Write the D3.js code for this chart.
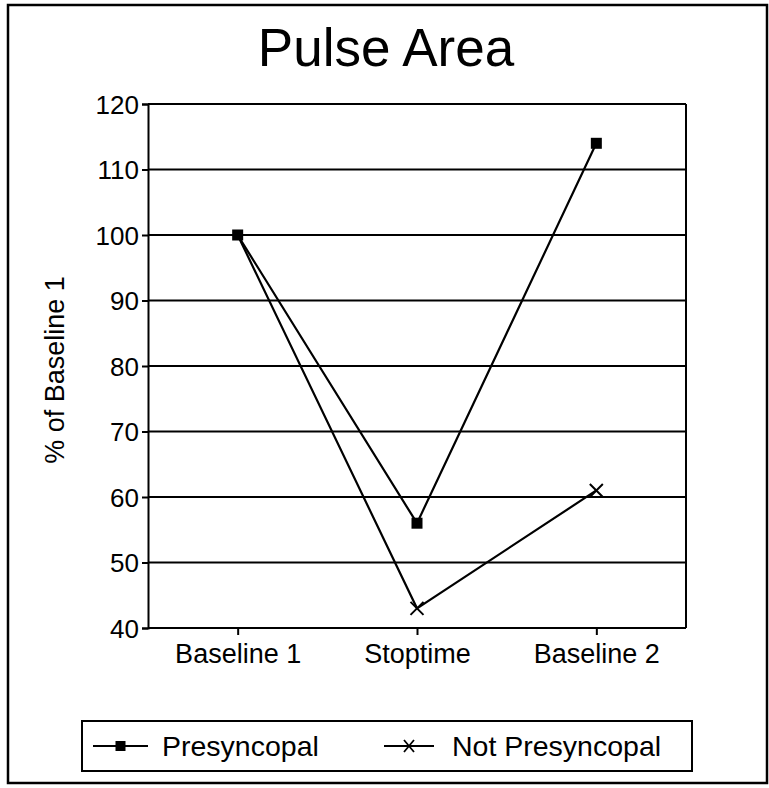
<!DOCTYPE html>
<html lang="en">
<head>
  <meta charset="UTF-8">
  <title>Pulse Area</title>
  <style>
    html, body {
      margin: 0;
      overflow: hidden;
      width: 100%;
      height: 100%;
      background: white;
    }
    svg {
      position: absolute;
      top: 0;
      left: 0;
      background: white;
    }
    text {
      font-family: "Liberation Sans", Arial, Helvetica, sans-serif;
      fill: #000;
    }
  </style>
</head>
<body>
  <svg width="769" height="788"></svg>
</body>
<script src="https://d3js.org/d3.v7.min.js"></script>
<script type="text/javascript">
  const categories = ['Baseline 1', 'Stoptime', 'Baseline 2']
  const presyncopal = [100, 56, 114]
  const notPresyncopal = [100, 43, 61]
  const yTicks = [40, 50, 60, 70, 80, 90, 100, 110, 120]
  const seriesNames = ['Presyncopal', 'Not Presyncopal']

  const svg = d3.select('svg')
  const plot = { left: 148, top: 104, right: 686, bottom: 628 }

  // outer frame
  svg.append('rect')
    .attr('x', 8).attr('y', 5)
    .attr('width', 759).attr('height', 778)
    .attr('fill', 'none')
    .attr('stroke', '#000')
    .attr('stroke-width', 2.5)

  // title
  svg.append('text')
    .attr('x', 386)
    .attr('y', 66)
    .attr('text-anchor', 'middle')
    .attr('font-size', 53)
    .text('Pulse Area')

  const x = d3.scalePoint()
    .domain(categories)
    .range([plot.left, plot.right])
    .padding(0.5)

  const y = d3.scaleLinear()
    .domain([40, 120])
    .range([plot.bottom, plot.top])

  // grid lines
  svg.append('g')
    .selectAll('line')
    .data(yTicks.filter(t => t > 40))
    .enter()
    .append('line')
    .attr('x1', plot.left)
    .attr('x2', plot.right)
    .attr('y1', d => y(d))
    .attr('y2', d => y(d))
    .attr('stroke', '#000')
    .attr('stroke-width', 2)

  // right border
  svg.append('line')
    .attr('x1', plot.right).attr('x2', plot.right)
    .attr('y1', plot.top).attr('y2', plot.bottom)
    .attr('stroke', '#000')
    .attr('stroke-width', 2)

  // y axis
  const yAxis = svg.append('g')
    .attr('transform', `translate(${plot.left},0)`)
    .call(d3.axisLeft(y).tickValues(yTicks).tickSize(6).tickPadding(3))
  yAxis.select('.domain').attr('stroke-width', 2)
  yAxis.selectAll('.tick line').attr('stroke-width', 2)
  yAxis.selectAll('.tick text')
    .attr('font-size', 26)
    .attr('font-family', '"Liberation Sans", Arial, sans-serif')
    .attr('dy', '0.36em')

  // x axis
  const xAxis = svg.append('g')
    .attr('transform', `translate(0,${plot.bottom})`)
    .call(d3.axisBottom(x).tickSizeInner(7).tickSizeOuter(0).tickPadding(8))
  xAxis.select('.domain')
    .attr('stroke-width', 2)
    .attr('d', `M${plot.left},0H${plot.right}`)
  xAxis.selectAll('.tick line').attr('stroke-width', 2)
  xAxis.selectAll('.tick text')
    .attr('font-size', 27)
    .attr('font-family', '"Liberation Sans", Arial, sans-serif')
    .attr('dy', '0.75em')

  // y axis title
  svg.append('text')
    .attr('transform', 'translate(64,370) rotate(-90)')
    .attr('text-anchor', 'middle')
    .attr('font-size', 27)
    .text('% of Baseline 1')

  const line = d3.line()
    .x((d, i) => x(categories[i]))
    .y(d => y(d))

  // series lines
  svg.append('path')
    .datum(presyncopal)
    .attr('d', line)
    .attr('fill', 'none')
    .attr('stroke', '#000')
    .attr('stroke-width', 2.2)

  svg.append('path')
    .datum(notPresyncopal)
    .attr('d', line)
    .attr('fill', 'none')
    .attr('stroke', '#000')
    .attr('stroke-width', 2.2)

  // markers
  const sq = 11
  svg.append('g')
    .selectAll('rect')
    .data(presyncopal)
    .enter()
    .append('rect')
    .attr('x', (d, i) => x(categories[i]) - sq / 2)
    .attr('y', d => y(d) - sq / 2)
    .attr('width', sq)
    .attr('height', sq)
    .attr('fill', '#000')

  const cross = 6.5
  svg.append('g')
    .selectAll('path')
    .data(notPresyncopal.slice(1))
    .enter()
    .append('path')
    .attr('d', (d, i) => {
      const cx = x(categories[i + 1]), cy = y(d)
      return `M${cx - cross},${cy - cross}L${cx + cross},${cy + cross}M${cx - cross},${cy + cross}L${cx + cross},${cy - cross}`
    })
    .attr('fill', 'none')
    .attr('stroke', '#000')
    .attr('stroke-width', 2)

  // legend
  const legend = svg.append('g')
  legend.append('rect')
    .attr('x', 82).attr('y', 721)
    .attr('width', 610).attr('height', 50)
    .attr('fill', 'none')
    .attr('stroke', '#000')
    .attr('stroke-width', 2)

  const legendItems = [
    { name: seriesNames[0], x1: 93, x2: 148, tx: 162, marker: 'square' },
    { name: seriesNames[1], x1: 384, x2: 434, tx: 452, marker: 'cross' }
  ]
  const ly = 746

  legendItems.forEach(item => {
    legend.append('line')
      .attr('x1', item.x1).attr('x2', item.x2)
      .attr('y1', ly).attr('y2', ly)
      .attr('stroke', '#000')
      .attr('stroke-width', 2)
    const mx = (item.x1 + item.x2) / 2
    if (item.marker === 'square') {
      legend.append('rect')
        .attr('x', mx - 5).attr('y', ly - 5)
        .attr('width', 10).attr('height', 10)
        .attr('fill', '#000')
    } else {
      legend.append('path')
        .attr('d', `M${mx - 5},${ly - 6}L${mx + 5},${ly + 6}M${mx - 5},${ly + 6}L${mx + 5},${ly - 6}`)
        .attr('stroke', '#000')
        .attr('stroke-width', 1.8)
        .attr('fill', 'none')
    }
    legend.append('text')
      .attr('x', item.tx)
      .attr('y', ly + 10)
      .attr('font-size', 28.5)
      .text(item.name)
  })
</script>
</html>
